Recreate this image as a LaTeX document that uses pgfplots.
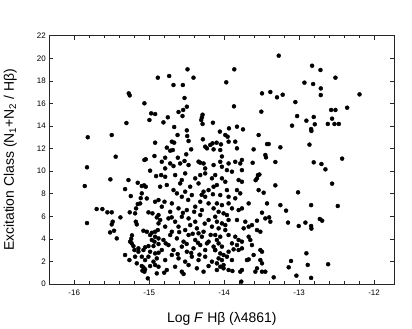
\documentclass[border=0pt]{standalone}
\usepackage{pgfplots}
\pgfplotsset{compat=1.18}
\usepackage{fontspec}
\setmainfont{Liberation Sans}
\usetikzlibrary{calc}
\begin{document}
\begin{tikzpicture}
\begin{axis}[
  scale only axis, width=345bp, height=248.3bp,
  xmin=-16.333, xmax=-11.73, ymin=0, ymax=22,
  xtick={-16,-15,-14,-13,-12}, xticklabels={-16,-15,-14,-13,-12},
  minor x tick num=4,
  ytick={0,2,4,6,8,10,12,14,16,18,20,22},
  yticklabels={0,2,4,6,8,10,12,14,16,18,20,22},
  tick align=inside, major tick length=4bp, minor tick length=2.5bp,
  tick style={black!85, line width=0.6bp},
  axis line style={black!85, line width=0.8bp},
  tick label style={font=\fontsize{8}{9}\selectfont, black},
  xticklabel style={yshift=-2bp},
  label style={font=\fontsize{14}{16}\selectfont},
  xlabel={Log \textit{F} Hβ (λ4861)},
  ylabel={Excitation Class (N\textsubscript{1}+N\textsubscript{2} / Hβ)},
  xlabel style={at={(axis description cs:0.5,-0.141)}, anchor=center},
  ylabel style={at={(axis description cs:-0.113,0.5)}, anchor=center, rotate=0},
]
\addplot[only marks, mark=*, mark size=2bp, black] coordinates {
(-15.82,13.00) (-15.83,10.34) (-15.86,8.68) (-15.83,5.40)
(-14.988,10.04) (-15.518,9.27) (-15.277,9.21) (-14.908,9.56) (-15.153,8.97) (-15.099,8.68) (-15.068,8.74) (-15.046,8.62) (-15.322,8.41) (-15.246,7.79) (-15.099,8.03) (-15.113,7.61) (-15.032,7.58) (-14.921,7.29) (-14.876,7.44) (-15.121,7.14) (-15.153,7.08) (-15.175,6.70) (-15.701,6.64) (-15.625,6.64) (-15.558,6.35) (-15.500,6.35) (-15.260,6.35) (-15.010,6.35) (-14.957,6.26) (-14.876,6.11) (-15.188,6.26) (-15.384,5.90) (-14.899,5.90) (-15.487,5.52) (-15.500,5.28) (-15.179,5.52) (-15.166,5.28) (-14.876,5.37) (-15.077,4.72) (-15.032,4.63) (-14.965,4.54) (-14.921,4.63) (-14.885,4.78) (-15.522,4.57) (-15.469,4.72) (-15.433,4.04) (-14.988,4.34) (-14.921,4.19) (-14.876,4.04) (-14.930,3.75) (-14.965,3.90) (-15.255,3.75) (-15.233,3.60) (-15.211,3.36) (-15.055,3.25) (-15.010,3.36) (-14.943,3.36) (-14.876,3.54) (-15.197,3.01) (-15.144,3.16) (-15.144,2.86) (-15.077,3.01) (-14.988,2.86) (-14.921,2.71) (-14.876,2.77) (-15.322,2.57) (-15.188,2.42) (-15.099,2.42) (-15.010,2.42) (-14.899,2.27) (-15.264,2.12) (-15.055,2.12) (-14.943,1.98) (-15.166,1.83) (-15.099,1.59) (-15.077,1.47) (-15.055,1.30) (-14.988,1.59) (-14.921,1.68) (-14.876,1.53) (-15.064,1.09) (-15.090,1.18) (-14.899,0.94) (-15.019,0.50) (-15.23,4.31) (-15.24,4.00)
(-14.832,10.83) (-14.720,10.68) (-14.676,10.45) (-14.587,10.68) (-14.475,10.54) (-14.275,10.68) (-14.253,10.24) (-14.141,10.54) (-14.787,10.24)
(-14.841,9.65) (-14.787,9.50) (-14.654,9.65) (-14.565,9.21) (-14.520,9.80) (-14.386,9.36) (-14.319,9.65) (-14.253,9.80) (-14.163,9.36)
(-14.765,8.77) (-14.676,8.32) (-14.587,8.91) (-14.520,8.18) (-14.453,8.62) (-14.342,8.91) (-14.275,8.18) (-14.208,8.32) (-14.141,8.62) (-14.631,8.03)
(-14.796,7.29) (-14.698,7.14) (-14.565,7.73) (-14.431,7.88) (-14.319,7.29) (-14.253,7.73) (-14.208,7.14)
(-14.832,6.85) (-14.720,6.40) (-14.609,6.70) (-14.498,6.55) (-14.386,6.85) (-14.297,6.55) (-14.141,6.70)
(-14.743,5.81) (-14.654,5.52) (-14.565,5.96) (-14.475,5.81) (-14.386,5.52) (-14.319,6.11) (-14.208,5.67)
(-14.787,5.08) (-14.698,4.63) (-14.609,5.08) (-14.520,4.78) (-14.453,5.22) (-14.364,4.93) (-14.275,4.63) (-14.163,5.08)
(-14.810,3.90) (-14.720,4.34) (-14.631,4.04) (-14.542,3.75) (-14.475,4.34) (-14.386,3.90) (-14.297,4.19) (-14.208,3.75) (-14.342,4.49)
(-14.832,3.01) (-14.743,3.45) (-14.676,3.01) (-14.565,3.31) (-14.498,2.86) (-14.409,3.16) (-14.319,3.45) (-14.253,3.01) (-14.141,3.31)
(-14.787,2.12) (-14.698,2.57) (-14.609,2.27) (-14.520,1.98) (-14.431,2.42) (-14.342,2.12) (-14.253,2.42) (-14.163,1.98)
(-14.765,1.24) (-14.654,1.53) (-14.565,1.09) (-14.475,1.68) (-14.364,1.39) (-14.275,1.09) (-14.208,1.59)
(-14.542,0.89) (-14.80,1.00)
(-14.60,4.60) (-14.50,3.55) (-14.42,4.45) (-14.35,3.65) (-14.26,5.35) (-14.18,4.35) (-14.12,3.00) (-14.44,2.75) (-14.62,2.65) (-14.70,5.90) (-14.55,6.30) (-14.40,6.40) (-14.30,7.90) (-14.48,7.45) (-14.15,7.95) (-14.23,3.60) (-14.33,2.60) (-14.78,3.60) (-14.854,8.62) (-14.854,5.67)
(-14.052,10.83) (-13.941,10.68) (-13.852,10.83) (-13.785,10.68) (-13.620,10.74) (-14.030,10.39) (-13.963,10.09) (-13.896,9.95) (-13.763,10.09) (-13.549,9.65) (-13.562,9.36) (-14.119,9.65) (-14.030,9.36) (-13.985,9.06) (-13.807,9.21) (-13.763,9.06) (-14.097,8.77) (-13.963,8.32) (-13.829,8.32) (-13.785,8.03) (-13.540,8.32) (-13.473,8.09) (-14.052,7.88) (-13.941,7.73) (-13.852,7.59) (-13.673,7.14) (-13.428,7.14) (-14.097,7.14) (-14.030,6.99) (-13.941,7.14) (-13.896,6.70) (-13.807,6.55) (-13.763,6.70) (-14.074,6.40) (-14.008,6.26) (-13.963,6.11) (-14.119,5.96) (-13.941,5.67) (-13.829,5.67) (-13.495,6.32) (-13.562,5.61) (-14.097,5.52) (-14.030,5.37) (-13.985,5.22) (-13.629,5.22) (-13.451,5.81) (-13.384,5.52) (-14.074,4.93) (-13.985,4.78) (-13.718,5.52) (-13.673,5.08) (-13.740,4.93) (-13.562,4.78) (-13.517,4.63) (-14.119,4.34) (-14.052,4.19) (-14.097,3.90) (-13.941,4.34) (-13.852,4.19) (-13.807,3.90) (-13.763,3.75) (-13.673,4.19) (-13.651,3.90) (-14.074,3.60) (-14.030,3.31) (-13.896,3.60) (-13.829,3.45) (-13.629,3.45) (-13.517,3.01) (-13.495,2.86) (-14.119,3.01) (-14.052,2.71) (-14.008,2.57) (-13.941,2.86) (-13.874,3.07) (-13.807,3.01) (-13.763,3.16) (-13.607,2.57) (-14.074,2.27) (-14.030,2.12) (-13.963,2.42) (-14.097,1.83) (-14.008,1.68) (-13.896,2.12) (-13.696,2.12) (-13.673,2.18) (-13.517,2.12) (-13.495,1.83) (-14.052,1.53) (-14.008,1.39) (-13.941,1.24) (-14.097,1.24) (-13.785,1.09) (-13.763,1.24) (-13.562,1.39) (-13.495,1.09) (-13.451,1.09) (-13.584,1.09) (-13.339,0.59) (-13.771,0.21) (-13.89,1.15) (-13.53,9.70) (-13.58,9.20) (-13.40,5.90)
(-14.885,18.28) (-14.734,18.43) (-14.676,17.63) (-14.551,17.63) (-15.273,16.89) (-15.260,16.71) (-14.529,16.48) (-15.064,16.01) (-14.498,15.71) (-14.974,15.12) (-14.921,15.06) (-14.997,14.53) (-14.609,15.24) (-14.547,15.42) (-14.556,14.88) (-14.752,14.77) (-14.810,14.32) (-15.304,14.26) (-14.667,13.91) (-14.498,13.61) (-14.622,13.20) (-15.500,13.20) (-14.493,13.11) (-14.475,12.67) (-14.921,12.52) (-14.698,12.61) (-14.667,12.52) (-14.765,12.08) (-14.720,11.81) (-14.685,11.87) (-14.506,11.49) (-15.447,11.28) (-14.930,11.34) (-15.064,10.99) (-15.046,11.05) (-14.787,11.19) (-14.618,11.19) (-14.529,10.90)
(-14.489,19.02) (-14.409,18.28) (-13.865,19.02) (-13.972,17.87) (-13.495,16.89) (-13.384,17.01) (-13.869,15.74) (-13.504,15.27) (-14.288,15.00) (-14.297,14.77) (-14.306,14.53) (-14.288,14.18) (-14.150,14.29) (-14.057,13.50) (-13.936,13.79) (-13.829,13.94) (-13.749,13.70) (-13.985,13.20) (-13.954,13.05) (-13.941,12.61) (-13.852,12.61) (-13.540,13.20) (-13.428,12.40) (-13.406,12.40) (-14.284,12.82) (-14.253,12.17) (-14.230,12.02) (-14.186,12.32) (-14.155,12.46) (-14.101,12.52) (-14.043,12.37) (-14.440,11.93) (-14.141,11.93) (-14.052,11.87) (-13.829,12.02) (-13.607,11.93) (-13.451,11.43) (-13.442,11.22) (-14.342,10.84) (-14.320,10.75) (-13.763,10.99) (-14.03,11.30)
(-13.272,20.23) (-12.827,19.34) (-12.715,18.96) (-12.515,18.28) (-12.929,17.84) (-12.813,17.72) (-12.711,17.33) (-12.711,16.74) (-13.295,16.54) (-13.219,16.77) (-12.194,16.80) (-13.050,16.12) (-12.573,15.42) (-12.515,15.42) (-12.359,15.62) (-13.027,14.88) (-12.903,14.47) (-12.805,14.80) (-12.560,14.65) (-13.094,14.03) (-12.791,14.15) (-12.840,13.73) (-12.836,13.56) (-12.617,14.18) (-12.528,14.18) (-12.470,14.18) (-13.250,12.11) (-12.862,12.35) (-13.317,10.81) (-12.805,10.78) (-12.702,10.63) (-12.649,10.16) (-12.426,11.11) (-13.317,8.74) (-13.014,8.12) (-12.560,8.89) (-13.250,6.99) (-13.174,6.50) (-12.840,6.99) (-12.484,6.91) (-13.148,5.44) (-13.005,5.14) (-12.916,5.44) (-12.840,5.14) (-12.836,4.91) (-12.724,5.76) (-12.693,5.61) (-12.903,2.72) (-13.108,2.04) (-13.139,1.48) (-12.885,1.69) (-12.613,1.75) (-13.036,0.74) (-12.840,0.54)
};
\end{axis}
\pgfresetboundingbox
\path ($(current axis.south west)+(-49.3bp,-45bp)$) rectangle ($(current axis.north east)+(17.7bp,35.7bp)$);
\end{tikzpicture}
\end{document}
